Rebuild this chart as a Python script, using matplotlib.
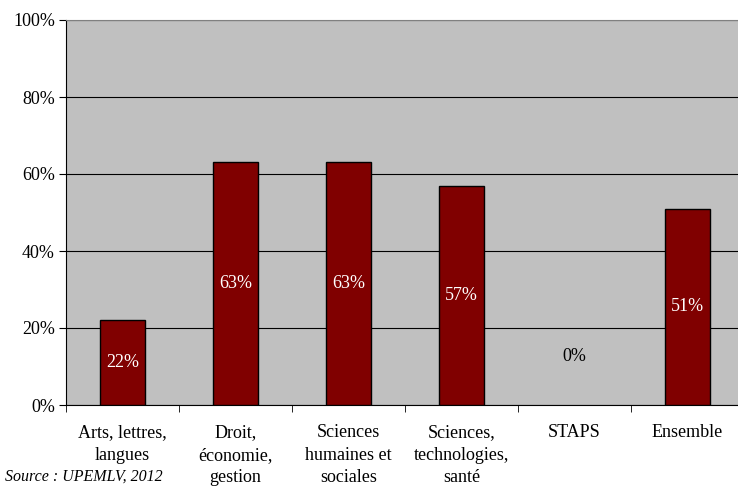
import numpy as np
import matplotlib.pyplot as plt
from matplotlib.ticker import FixedLocator, PercentFormatter

categories = ['Arts, lettres,\nlangues', 'Droit,\néconomie,\ngestion',
              'Sciences\nhumaines et\nsociales', 'Sciences,\ntechnologies,\nsanté',
              'STAPS', 'Ensemble']
values = [22, 63, 63, 57, 0, 51]
labels = ['22%', '63%', '63%', '57%', '0%', '51%']

plt.rcParams['font.family'] = ['Liberation Serif', 'DejaVu Serif']

fig = plt.figure(figsize=(7.38, 4.87), dpi=100)
ax = fig.add_axes([66/738, 82/487, 678/738, 385/487])
ax.set_facecolor('#c0c0c0')

x = np.arange(len(categories))
bars = ax.bar(x, values, width=0.4, color='#800000', edgecolor='black', linewidth=1, zorder=3)
for b, v in zip(bars, values):
    if v == 0:
        b.set_linewidth(0)

for xi, v, lab in zip(x, values, labels):
    if v > 0:
        ax.text(xi, v / 2, lab, ha='center', va='center', color='white', fontsize=13, zorder=4)
    else:
        ax.text(xi, 12.7, lab, ha='center', va='center', color='black', fontsize=13, zorder=4)

ax.set_xlim(-0.5, len(categories) - 0.5)
ax.set_ylim(0, 100)
ax.set_yticks([0, 20, 40, 60, 80, 100])
ax.yaxis.set_major_formatter(PercentFormatter(decimals=0))
ax.yaxis.grid(True, color='black', linewidth=0.8, zorder=1)
ax.set_axisbelow(True)

ax.set_xticks(x)
ax.set_xticklabels(categories, fontsize=13, linespacing=1.4, va='top')
ax.tick_params(axis='x', which='major', length=0, pad=14)
ax.xaxis.set_minor_locator(FixedLocator(np.arange(len(categories) + 1) - 0.5))
ax.tick_params(axis='x', which='minor', length=5, direction='out', color='black')
ax.tick_params(axis='y', length=5, direction='out', labelsize=13, pad=3)

for side in ['top', 'right']:
    ax.spines[side].set_color('#808080')
for side in ['left', 'bottom']:
    ax.spines[side].set_color('black')

fig.text(5/738, 1 - 481/487, 'Source : UPEMLV, 2012', fontsize=11.5, style='italic',
         ha='left', va='baseline')

fig.savefig('out.png', dpi=100)
